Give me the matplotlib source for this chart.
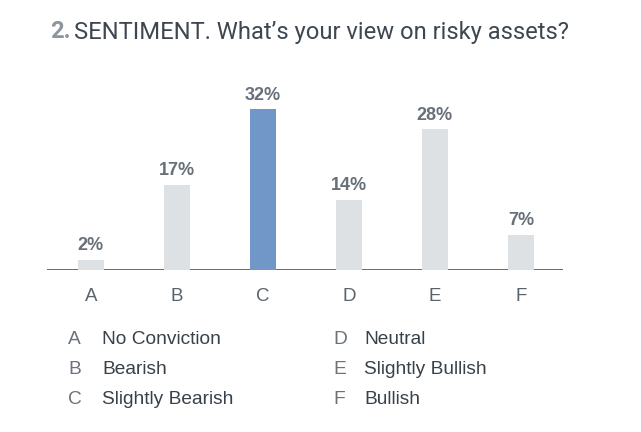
import matplotlib
matplotlib.use("Agg")
import matplotlib.pyplot as plt

categories = ["A", "B", "C", "D", "E", "F"]
values = [2, 17, 32, 14, 28, 7]
labels = ["No Conviction", "Bearish", "Slightly Bearish", "Neutral", "Slightly Bullish", "Bullish"]
highlight = "C"

W, H = 641, 432
fig = plt.figure(figsize=(W / 100, H / 100), dpi=100)
fig.patch.set_facecolor("white")

def fx(px):
    return px / W

def fy(py):
    return 1 - py / H

ax_left, ax_right, ax_base, ax_top = 47, 563, 270, 94
ax = fig.add_axes([fx(ax_left), fy(ax_base), (ax_right - ax_left) / W, (ax_base - ax_top) / H])
ax.set_xlim(-0.51, 5.49)
ax.set_ylim(0, 35)
ax.axis("off")

x = list(range(len(categories)))
colors = ["#7097c7" if c == highlight else "#dde1e3" for c in categories]
ax.bar(x, values, width=0.30, color=colors, zorder=3)
ax.axhline(0, color="#565e66", linewidth=2.0, zorder=2)

sans = ["Liberation Sans", "DejaVu Sans"]
for xi, v in zip(x, values):
    ax.annotate(f"{v}%", (xi, v), xytext=(0, 4), textcoords="offset points",
                ha="center", va="bottom", fontsize=13, fontweight="bold",
                color="#687079", family=sans, zorder=4)
for xi, c in zip(x, categories):
    ax.annotate(c, (xi, 0), xytext=(0, -13), textcoords="offset points",
                ha="center", va="top", fontsize=13.5, color="#5a626a", family=sans)

# Title
t1 = fig.text(fx(50), fy(32), "2.", fontsize=17.1, fontweight="bold", color="#8c949c",
              family=["Roboto", "DejaVu Sans"], va="center", ha="left")
fig.canvas.draw()
bb = t1.get_window_extent()
fig.text(bb.x1 / W + fx(4), fy(32), "SENTIMENT. What\u2019s your view on risky assets?",
         fontsize=17.1, color="#3e4750", family=["Roboto", "DejaVu Sans"], va="center", ha="left")

# Legend
rows_y = [340, 370, 400]
for i, (c, lab) in enumerate(zip(categories, labels)):
    col = i // 3
    row = i % 3
    lx = 68 if col == 0 else 333
    tx = 102 if col == 0 else 364
    fig.text(fx(lx), fy(rows_y[row]), c, fontsize=13.8, color="#6a727a", family=sans,
             va="center", ha="left")
    fig.text(fx(tx), fy(rows_y[row]), lab, fontsize=13.8, color="#38414a", family=sans,
             va="center", ha="left")

fig.savefig("out.png", dpi=100, facecolor="white")
